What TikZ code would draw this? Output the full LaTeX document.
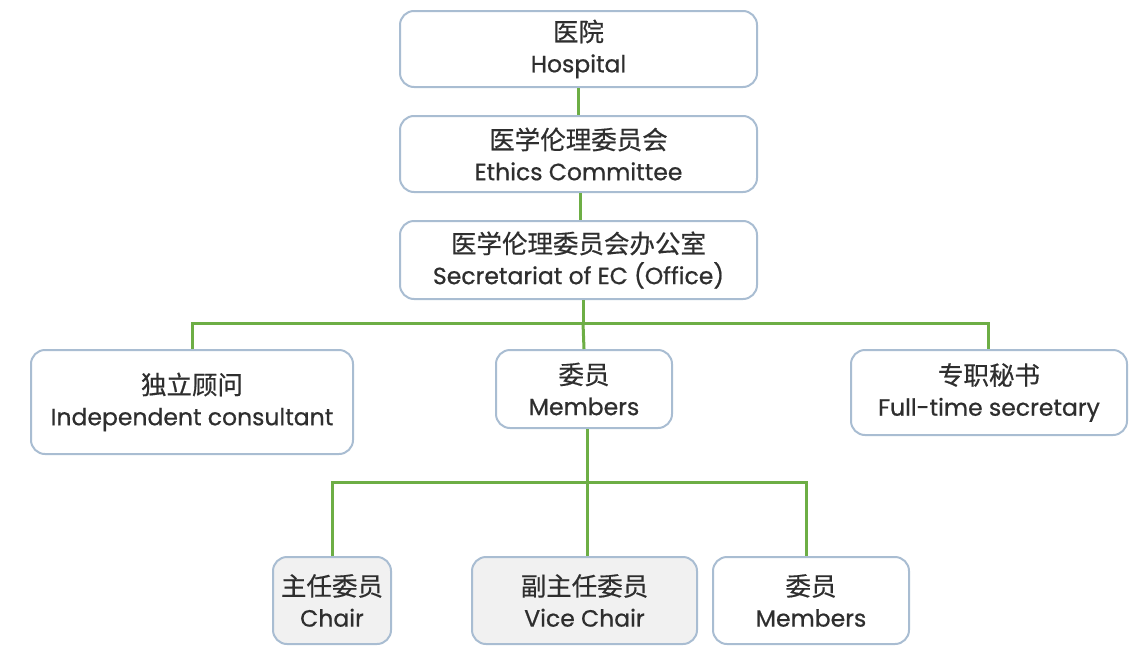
\documentclass[tikz,border=0pt]{standalone}
\usepackage{fontspec}
\setmainfont{Poppins}[FakeBold=0.7]
\newfontfamily\cjk{Noto Sans CJK SC}[FakeBold=0.5]
\definecolor{boxborder}{HTML}{A9BDD2}
\definecolor{conn}{HTML}{6DAE45}
\definecolor{grayfill}{HTML}{F1F1F1}
\tikzset{
  orgbox/.style={draw=boxborder, line width=2pt, rounded corners=14pt, fill=white, align=center, inner sep=0pt, text=black!82, font=\fontsize{23.5}{31}\selectfont},
  grayed/.style={fill=grayfill},
  link/.style={draw=conn, line width=3pt}
}
\newcommand{\zh}[1]{{\cjk\fontsize{25.5}{31}\selectfont #1}}
\begin{document}
\begin{tikzpicture}[x=1pt,y=-1pt]
\useasboundingbox (0,0) rectangle (1139,645);
% nodes
\node[orgbox, minimum width=357pt, minimum height=76pt] (hosp) at (578.5,49) {\zh{医院}\\Hospital};
\node[orgbox, minimum width=357pt, minimum height=76pt] (ec) at (578.5,154) {\zh{医学伦理委员会}\\Ethics Committee};
\node[orgbox, minimum width=357pt, minimum height=78pt] (sec) at (578.5,260) {\zh{医学伦理委员会办公室}\\Secretariat of EC (Office)};
\node[orgbox, minimum width=322pt, minimum height=104pt] (cons) at (192,402) {\zh{独立顾问}\\Independent consultant};
\node[orgbox, minimum width=176pt, minimum height=78pt] (mem) at (584,389) {\zh{委员}\\Members};
\node[orgbox, minimum width=276pt, minimum height=85pt] (fts) at (989,392.5) {\zh{专职秘书}\\Full-time secretary};
\node[orgbox, grayed, minimum width=118pt, minimum height=87pt] (chair) at (332,600.5) {\zh{主任委员}\\Chair};
\node[orgbox, grayed, minimum width=225pt, minimum height=87pt] (vchair) at (584.5,600.5) {\zh{副主任委员}\\Vice Chair};
\node[orgbox, minimum width=196pt, minimum height=87pt] (mem2) at (811,600.5) {\zh{委员}\\Members};
% connectors
\draw[link] (hosp.south) -- (ec.north);
\draw[link] ([xshift=2pt]ec.south) -- ([xshift=2pt]sec.north);
\coordinate (j1) at (583,323);
\coordinate (j2) at (587,482);
\draw[link] ([xshift=4.5pt]sec.south) -- (j1);
\draw[link] (cons.north) |- (j1) -| (fts.north -| 988,0);
\draw[link] (j1) -- (mem.north);
\draw[link] (mem.south -| 587,0) -- (j2);
\draw[link] (chair.north) |- (j2) -| (mem2.north -| 806,0);
\draw[link] (j2) -- (vchair.north -| 587,0);
\end{tikzpicture}
\end{document}
